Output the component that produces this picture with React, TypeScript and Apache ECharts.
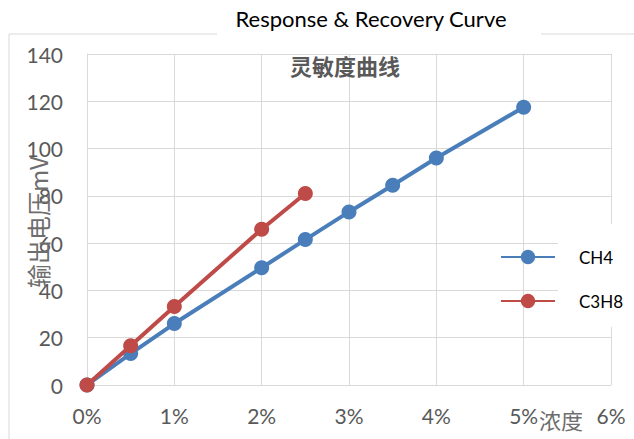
import React, { useEffect, useRef } from "react";
import * as echarts from "echarts";

const ch4X = [0, 0.5, 1, 2, 2.5, 3, 3.5, 4, 5];
const ch4Y = [0, 13.3, 26, 49.6, 61.5, 73.2, 84.5, 96, 117.5];
const c3h8X = [0, 0.5, 1, 2, 2.5];
const c3h8Y = [0, 16.6, 33.2, 65.9, 81];
const seriesNames = ["CH4", "C3H8"];
const titleText = "Response & Recovery Curve";
const subtitleText = "灵敏度曲线";
const yName = "输出电压mV";
const xName = "浓度";

const GRID = "#d9d9d9";
const LABEL = "#595959";

export default function App() {
  const ref = useRef<HTMLDivElement>(null);
  useEffect(() => {
    const chart = echarts.init(ref.current!, null, { renderer: "svg" });
    const pair = (xs: number[], ys: number[]) => xs.map((x, i) => [x, ys[i]]);
    chart.setOption({
      animation: false,
      grid: {
        left: 87,
        top: 54,
        right: 23,
        bottom: 54,
        containLabel: false,
        outerBoundsMode: "none",
      },
      xAxis: {
        type: "value",
        min: 0,
        max: 6,
        interval: 1,
        axisLine: { show: true, lineStyle: { color: GRID, width: 1 } },
        axisTick: { show: false },
        splitLine: { show: true, lineStyle: { color: GRID, width: 1 } },
        axisLabel: {
          color: LABEL,
          fontFamily: "Lato",
          fontSize: 21,
          margin: 20,
          formatter: (v: number) => v + "%",
        },
      },
      yAxis: {
        type: "value",
        min: 0,
        max: 140,
        interval: 20,
        axisLine: { show: true, lineStyle: { color: GRID, width: 1 } },
        axisTick: { show: false },
        splitLine: { show: true, lineStyle: { color: GRID, width: 1 } },
        axisLabel: { color: LABEL, fontFamily: "Lato", fontSize: 21, margin: 24 },
      },
      legend: {
        orient: "vertical",
        left: 500,
        top: 248,
        padding: 0,
        itemWidth: 54,
        itemHeight: 18,
        itemGap: 26,
        textStyle: {
          color: "#000",
          fontFamily: "Lato",
          fontSize: 17,
          lineHeight: 18,
          padding: [0, 0, 0, 19],
        },
        data: seriesNames,
      },
      graphic: [
        {
          type: "rect",
          z: 0,
          silent: true,
          shape: { x: 9, y: 34, width: 700, height: 500 },
          style: { fill: "none", stroke: GRID, lineWidth: 1 },
        },
        {
          type: "rect",
          z: 1,
          silent: true,
          shape: { x: 217, y: 25, width: 324, height: 20 },
          style: { fill: "#fff" },
        },
        {
          type: "rect",
          z: 1,
          silent: true,
          shape: { x: 558, y: 224, width: 70, height: 103 },
          style: { fill: "#fff" },
        },
        {
          type: "text",
          z: 5,
          x: 371,
          y: 18,
          style: {
            text: titleText,
            fill: "#000",
            fontFamily: "Lato",
            fontSize: 22,
            align: "center",
            verticalAlign: "middle",
          },
        },
        {
          type: "text",
          z: 5,
          x: 345,
          y: 65,
          style: {
            text: subtitleText,
            fill: LABEL,
            fontFamily: "Noto Sans CJK SC",
            fontWeight: "bold",
            fontSize: 22,
            align: "center",
            verticalAlign: "middle",
          },
        },
        {
          type: "text",
          z: 5,
          x: 37,
          y: 222,
          rotation: Math.PI / 2,
          style: {
            text: yName,
            fill: "#6e6e6e",
            fontFamily: "Noto Sans CJK SC",
            fontSize: 24,
            align: "center",
            verticalAlign: "middle",
          },
        },
        {
          type: "text",
          z: 5,
          x: 561,
          y: 419,
          style: {
            text: xName,
            fill: "#6e6e6e",
            fontFamily: "Noto Sans CJK SC",
            fontSize: 22,
            align: "center",
            verticalAlign: "middle",
          },
        },
      ],
      series: [
        {
          name: seriesNames[0],
          type: "line",
          data: pair(ch4X, ch4Y),
          symbol: "circle",
          symbolSize: 15,
          color: "#4a7ebb",
          lineStyle: { width: 4, color: "#4a7ebb" },
          itemStyle: { color: "#4a7ebb" },
          z: 3,
        },
        {
          name: seriesNames[1],
          type: "line",
          data: pair(c3h8X, c3h8Y),
          symbol: "circle",
          symbolSize: 15,
          color: "#be4b48",
          lineStyle: { width: 4, color: "#be4b48" },
          itemStyle: { color: "#be4b48" },
          z: 4,
        },
      ],
    });
    return () => chart.dispose();
  }, []);
  return <div ref={ref} style={{ width: 634, height: 439, position: "absolute", left: 0, top: 0 }} />;
}
